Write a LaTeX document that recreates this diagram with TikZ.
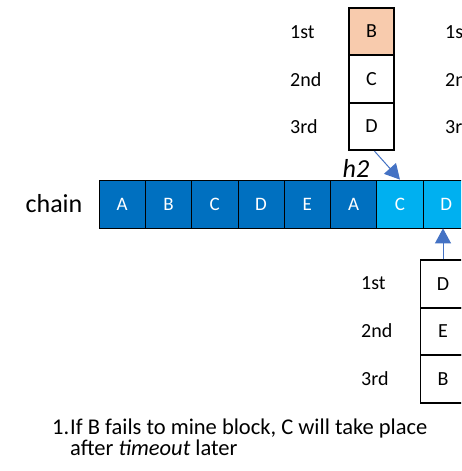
\documentclass[tikz,border=0pt]{standalone}
\usepackage{fontspec}
\setmainfont{Carlito}
\usetikzlibrary{arrows.meta}
\definecolor{dkblue}{HTML}{0070C0}
\definecolor{ltblue}{HTML}{00B0F0}
\definecolor{peach}{HTML}{F8CBAD}
\definecolor{arrblue}{HTML}{4472C4}
\tikzset{
  blk/.style={draw=black, line width=0.8pt, fill=dkblue, text=white, minimum width=46.3pt, minimum height=48pt, inner sep=0pt, font=\fontsize{19}{21}\selectfont},
  newblk/.style={blk, fill=ltblue},
  slot/.style={draw=black, line width=1.8pt, fill=white, minimum width=45pt, minimum height=47.5pt, inner sep=0pt, font=\fontsize{20}{22}\selectfont},
  rank/.style={anchor=west, inner sep=0pt, font=\fontsize{20}{22}\selectfont},
  note/.style={anchor=base west, inner sep=0pt, font=\fontsize{22.5}{24}\selectfont},
  arr/.style={draw=arrblue, line width=1pt, -{Triangle[width=16pt,length=15pt]}},
}
\begin{document}
\begin{tikzpicture}[x=1pt,y=-1pt]
\path[use as bounding box] (0,0) rectangle (461,471);
\clip (0,0) rectangle (461,471);
\fill[white] (0,0) rectangle (461,471);
% chain
\node[font=\fontsize{26}{28}\selectfont, inner sep=0pt] (chainlbl) at (54,204) {chain};
\foreach \i/\l in {1/A,2/B,3/C,4/D,5/E,6/A}{
  \node[blk] (c\i) at ({99+23.15+46.3*(\i-1)},204) {\l};
}
\node[newblk] (c7) at ({99+23.15+46.3*6},204) {C};
\node[newblk] (c8) at ({99+23.15+46.3*7},204) {D};
% top column
\node[slot, fill=peach] (t1) at (371.5,31.5) {B};
\node[slot] (t2) at (371.5,79) {C};
\node[slot] (t3) at (371.5,126.5) {D};
\node[rank] (tl1) at (290,32) {1st};
\node[rank] (tl2) at (290,80) {2nd};
\node[rank] (tl3) at (290,127) {3rd};
\node[rank] (rl1) at (445,32) {1st};
\node[rank] (rl2) at (445,80) {2nd};
\node[rank] (rl3) at (445,127) {3rd};
\draw[arr] ([xshift=3pt]t3.south) -- ([xshift=0pt]c7.north);
\node[font=\itshape\fontsize{26}{28}\selectfont, inner sep=0pt] (h2) at (356,168) {h2};
% bottom column
\node[slot] (b1) at (443,284) {D};
\node[slot] (b2) at (443,331.5) {E};
\node[slot] (b3) at (443,379) {B};
\node[rank] (bl1) at (361,283) {1st};
\node[rank] (bl2) at (361,331) {2nd};
\node[rank] (bl3) at (361,379) {3rd};
\draw[arr] (b1.north) -- (b1.north |- c8.south);
% note
\node[note] (num) at (52,434) {1.};
\node[note] (line1) at (70,434) {If B fails to mine block, C will take place};
\node[note] (line2) at (70,455) {after \textit{timeout} later};
\end{tikzpicture}
\end{document}
